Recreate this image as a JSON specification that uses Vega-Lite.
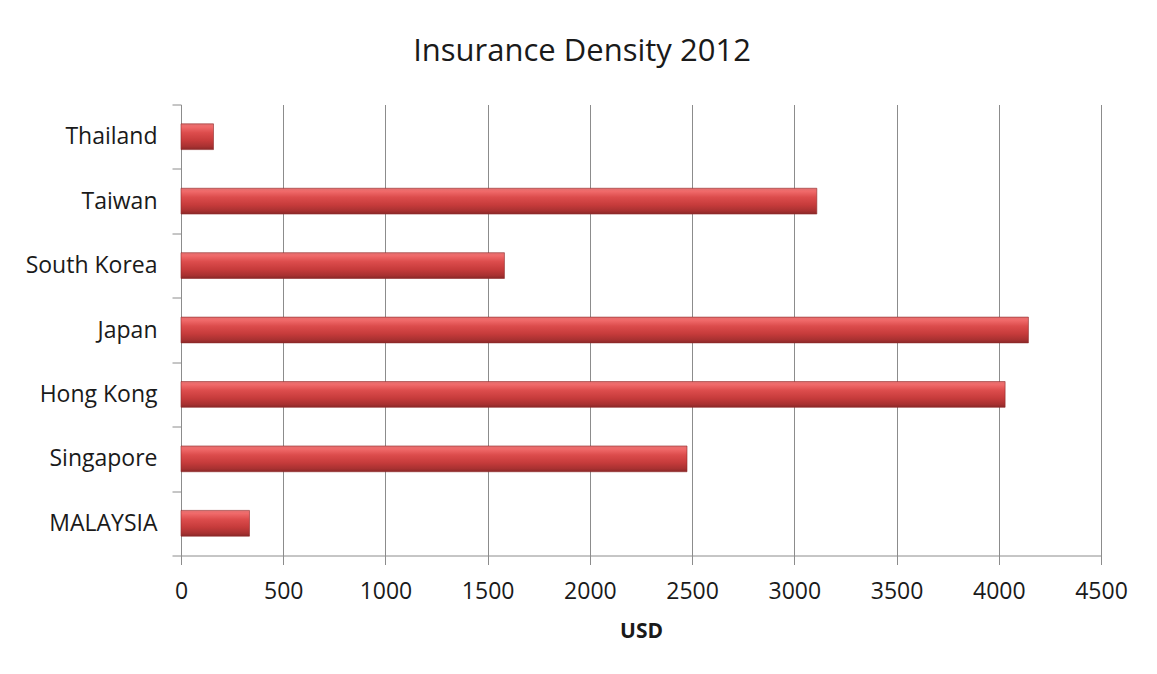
{
  "$schema": "https://vega.github.io/schema/vega-lite/v6.json",
  "width": 920,
  "height": 451,
  "autosize": "none",
  "padding": {"left": 181, "top": 104.5, "right": 56, "bottom": 118.5},
  "background": "white",
  "config": {
    "view": {"stroke": null},
    "font": "Open Sans"
  },
  "title": {
    "text": "Insurance  Density 2012",
    "fontSize": 31,
    "font": "Open Sans",
    "fontWeight": "normal",
    "color": "#1a1a1a",
    "anchor": "middle",
    "dx": -59,
    "baseline": "alphabetic",
    "offset": 2
  },
  "data": {
    "values": [
      {"country": "Thailand", "usd": 159},
      {"country": "Taiwan", "usd": 3110},
      {"country": "South Korea", "usd": 1582},
      {"country": "Japan", "usd": 4145},
      {"country": "Hong Kong", "usd": 4031},
      {"country": "Singapore", "usd": 2475},
      {"country": "MALAYSIA", "usd": 335}
    ]
  },
  "mark": {
    "type": "bar",
    "height": {"band": 0.4},
    "stroke": "#8f2a2a",
    "strokeWidth": 0.6,
    "color": {
      "gradient": "linear",
      "x1": 0, "y1": 0, "x2": 0, "y2": 1,
      "stops": [
        {"offset": 0, "color": "#e27070"},
        {"offset": 0.12, "color": "#f06a6a"},
        {"offset": 0.35, "color": "#dc4c4c"},
        {"offset": 0.65, "color": "#c63b3b"},
        {"offset": 0.88, "color": "#a83131"},
        {"offset": 1, "color": "#8a2828"}
      ]
    }
  },
  "encoding": {
    "y": {
      "field": "country",
      "type": "nominal",
      "sort": ["Thailand", "Taiwan", "South Korea", "Japan", "Hong Kong", "Singapore", "MALAYSIA"],
      "scale": {"paddingInner": 0, "paddingOuter": 0},
      "axis": {
        "title": null,
        "tickBand": "extent",
        "tickSize": 9,
        "tickColor": "#8c8c8c",
        "domainColor": "#8c8c8c",
        "labelFontSize": 23,
        "labelFont": "Open Sans",
        "labelColor": "#1a1a1a",
        "labelPadding": 15,
        "grid": false
      }
    },
    "x": {
      "field": "usd",
      "type": "quantitative",
      "scale": {"domain": [0, 4500], "nice": false},
      "axis": {
        "title": "USD",
        "titleFontSize": 21,
        "titleFont": "Open Sans",
        "titleFontWeight": "bold",
        "titleColor": "#1a1a1a",
        "titlePadding": 17,
        "values": [0, 500, 1000, 1500, 2000, 2500, 3000, 3500, 4000, 4500],
        "format": "d",
        "grid": true,
        "gridColor": "#8c8c8c",
        "gridWidth": 1,
        "tickSize": 9,
        "tickColor": "#8c8c8c",
        "domainColor": "#8c8c8c",
        "labelFontSize": 23,
        "labelFont": "Open Sans",
        "labelColor": "#1a1a1a",
        "labelPadding": 16,
        "labelFlush": false,
        "labelOverlap": false
      }
    }
  }
}
